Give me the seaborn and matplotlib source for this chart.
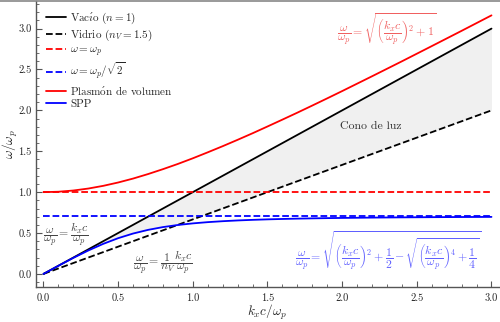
import numpy as np
import pandas as pd
import matplotlib
matplotlib.use("Agg")
import matplotlib.pyplot as plt
import seaborn as sns

# ---- data ----
k_vals = [0.0, 0.1, 0.2, 0.3, 0.4, 0.5, 0.6, 0.7, 0.8, 0.9, 1.0, 1.1, 1.2, 1.3,
          1.4, 1.5, 1.6, 1.7, 1.8, 1.9, 2.0, 2.2, 2.4, 2.6, 2.8, 3.0]
vacuum = [0.0, 0.1, 0.2, 0.3, 0.4, 0.5, 0.6, 0.7, 0.8, 0.9, 1.0, 1.1, 1.2, 1.3,
          1.4, 1.5, 1.6, 1.7, 1.8, 1.9, 2.0, 2.2, 2.4, 2.6, 2.8, 3.0]
glass = [0.0, 0.0667, 0.1333, 0.2, 0.2667, 0.3333, 0.4, 0.4667, 0.5333, 0.6,
         0.6667, 0.7333, 0.8, 0.8667, 0.9333, 1.0, 1.0667, 1.1333, 1.2, 1.2667,
         1.3333, 1.4667, 1.6, 1.7333, 1.8667, 2.0]
bulk_plasmon = [1.000, 1.005, 1.020, 1.044, 1.077, 1.118, 1.166, 1.221, 1.281,
                1.345, 1.414, 1.487, 1.562, 1.640, 1.720, 1.803, 1.887, 1.972,
                2.059, 2.147, 2.236, 2.417, 2.600, 2.786, 2.973, 3.162]
spp = [0.0, 0.0995, 0.1960, 0.2863, 0.3675, 0.4370, 0.4938, 0.5385, 0.5726,
       0.5984, 0.6180, 0.6331, 0.6447, 0.6539, 0.6612, 0.6672, 0.6720, 0.6761,
       0.6794, 0.6823, 0.6847, 0.6887, 0.6916, 0.6939, 0.6958, 0.6972]
k_flat = [0.0, 3.0]
wp_level = [1.0, 1.0]
wp_sqrt2_level = [0.7071, 0.7071]

labels = [r"Vac$\mathrm{\acute{\imath}}$o ($n=1$)", "Vidrio ($n_V=1.5$)",
          r"$\omega=\omega_p$", r"$\omega=\omega_p/\sqrt{2}$",
          r"Plasm$\mathrm{\acute{o}}$n de volumen", "SPP"]
tick_labels = ["0.0", "0.5", "1.0", "1.5", "2.0", "2.5", "3.0"]

sns.set_style("ticks")
plt.rcParams["font.family"] = ["cmr10", "DejaVu Serif"]
plt.rcParams["mathtext.fontset"] = "cm"
plt.rcParams["axes.formatter.use_mathtext"] = True
plt.rcParams["axes.unicode_minus"] = False

fig = plt.figure(figsize=(5.0, 3.22), dpi=100)
ax = fig.add_axes([0.072, 0.1087, 0.928, 0.8893])

df = pd.DataFrame({"k": k_vals, "vac": vacuum, "glass": glass,
                   "bulk": bulk_plasmon, "spp": spp})
flat = pd.DataFrame({"k": k_flat, "wp": wp_level, "wp2": wp_sqrt2_level})

lw = 1.3
ax.fill_between(df["k"], df["vac"], np.maximum(df["glass"], df["spp"]),
                color="#f0f0f0", lw=0, zorder=0)
sns.lineplot(data=df, x="k", y="vac", ax=ax, color="black", lw=lw, label=labels[0])
sns.lineplot(data=df, x="k", y="glass", ax=ax, color="black", lw=lw,
             linestyle="--", label=labels[1])
sns.lineplot(data=flat, x="k", y="wp", ax=ax, color="red", lw=lw,
             linestyle="--", label=labels[2])
sns.lineplot(data=flat, x="k", y="wp2", ax=ax, color="blue", lw=lw,
             linestyle="--", label=labels[3])
sns.lineplot(data=df, x="k", y="bulk", ax=ax, color="red", lw=lw, label=labels[4])
sns.lineplot(data=df, x="k", y="spp", ax=ax, color="blue", lw=lw, label=labels[5])

ax.set_xlim(-0.05, 3.057)
ax.set_ylim(-0.16, 3.342)
ax.set_xticks([0.0, 0.5, 1.0, 1.5, 2.0, 2.5, 3.0])
ax.set_yticks([0.0, 0.5, 1.0, 1.5, 2.0, 2.5, 3.0])
ax.set_xticks(np.arange(0, 31) / 10, minor=True)
ax.set_yticks(np.arange(-1, 34) / 10, minor=True)
ax.set_xticklabels(tick_labels)
ax.set_yticklabels(tick_labels)
ax.tick_params(which="both", direction="in", color="#555555", labelsize=7.5,
               labelcolor="#222222")
ax.tick_params(which="major", length=4)
ax.tick_params(which="minor", length=2.5)
ax.tick_params(axis="x", pad=5)
ax.tick_params(axis="y", pad=3)
for s in ["top", "right"]:
    ax.spines[s].set_visible(False)
for s in ["left", "bottom"]:
    ax.spines[s].set_color("#555555")
    ax.spines[s].set_linewidth(1.0)

ax.set_xlabel(r"$k_xc/\omega_p$", fontsize=9.5)
ax.set_ylabel(r"$\omega/\omega_p$", fontsize=9.5)
ax.xaxis.set_label_coords(0.497, -0.088)
ax.yaxis.set_label_coords(-0.055, 0.5)
ax.xaxis.label.set_va("center")
ax.yaxis.label.set_va("center")

ax.legend(loc="upper left", bbox_to_anchor=(0.0, 1.0), frameon=False,
          fontsize=8, handlelength=1.8, labelspacing=0.18, borderaxespad=0.5,
          handletextpad=0.4)

ax.text(0.0, 0.48, r"$\dfrac{\omega}{\omega_p}=\dfrac{k_xc}{\omega_p}$",
        fontsize=8.5, ha="left", va="center", color="#444444")
ax.text(0.80, 0.13,
        r"$\dfrac{\omega}{\omega_p}=\dfrac{1}{n_V}\dfrac{k_xc}{\omega_p}$",
        fontsize=8.5, ha="center", va="center", color="#444444")
ax.text(2.19, 1.80, "Cono de luz", fontsize=8.5, ha="center", va="center",
        color="#333333")
ax.text(2.30, 2.99,
        r"$\dfrac{\omega}{\omega_p}=\sqrt{\left(\dfrac{k_xc}{\omega_p}\right)^2+1}$",
        fontsize=8.5, ha="center", va="center", color="#f06060")
ax.text(2.31, 0.28,
        r"$\dfrac{\omega}{\omega_p}=\sqrt{\left(\dfrac{k_xc}{\omega_p}\right)^2+\dfrac{1}{2}-\sqrt{\left(\dfrac{k_xc}{\omega_p}\right)^4+\dfrac{1}{4}}}$",
        fontsize=8.5, ha="center", va="center", color="#6060ff")

fig.add_artist(plt.Line2D([0, 1], [0.998, 0.998], transform=fig.transFigure,
                          color="#888888", lw=1.2))

fig.savefig("out.png", dpi=100)
